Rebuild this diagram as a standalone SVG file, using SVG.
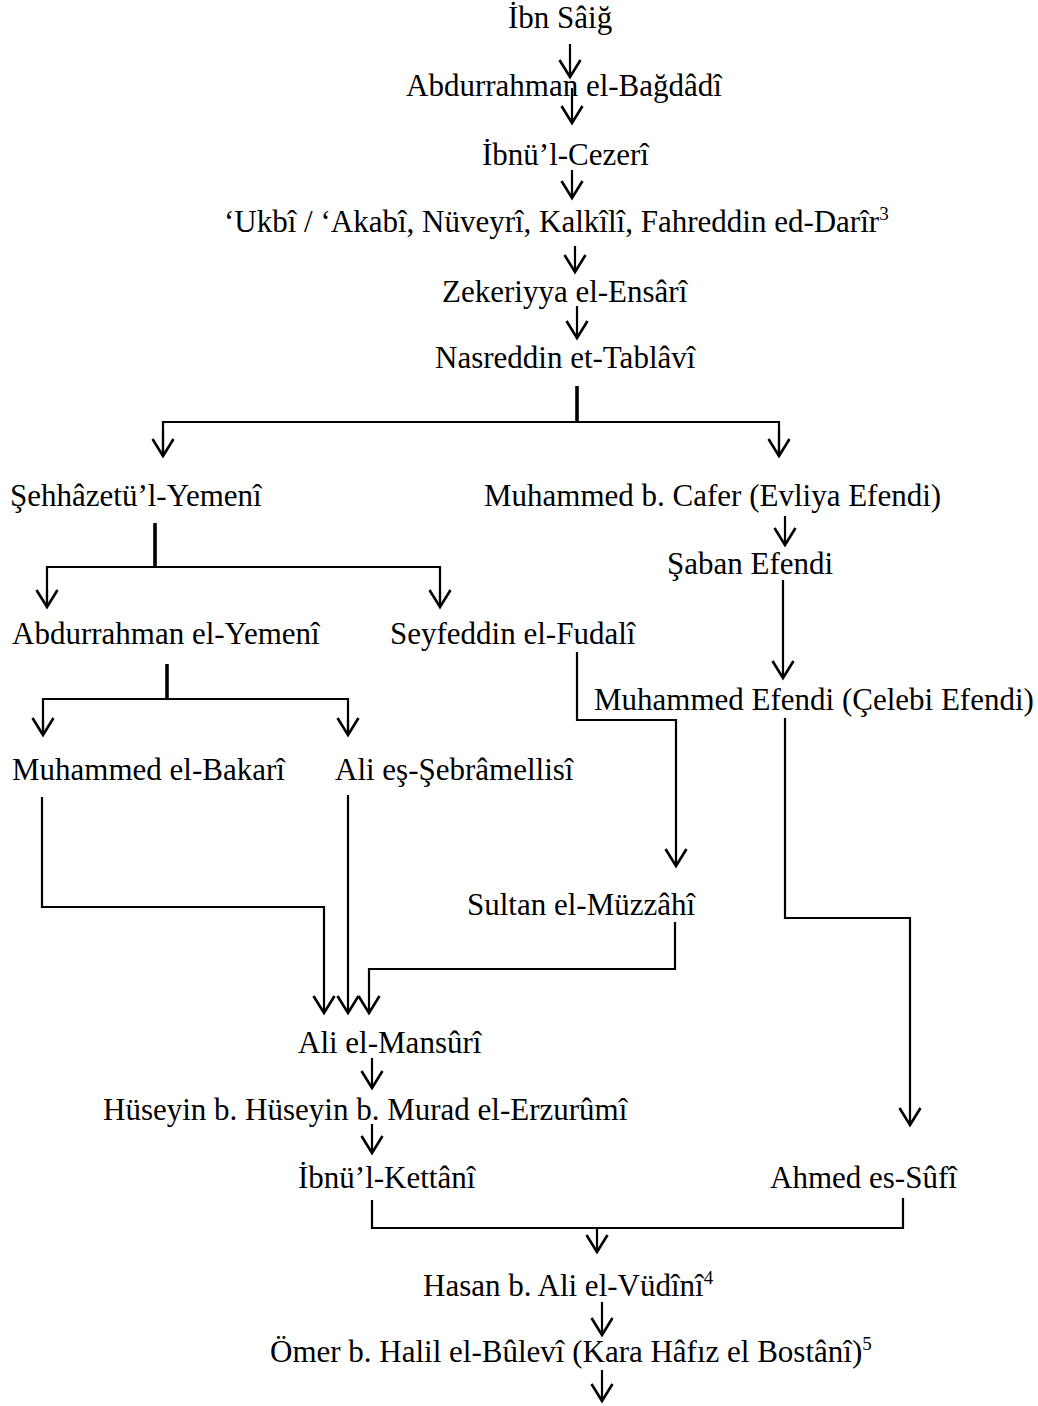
<svg xmlns="http://www.w3.org/2000/svg" width="1038" height="1406" viewBox="0 0 1038 1406">
<defs>
<style>
.t{font-family:"Liberation Serif","Times New Roman",serif;font-size:31px;fill:#000}
.sup{font-size:19px}
.c{fill:none;stroke:#000;stroke-width:2.2}
.s{fill:none;stroke:#000;stroke-width:3.6}
</style>
<marker id="ah" markerUnits="userSpaceOnUse" markerWidth="24" markerHeight="26" viewBox="-20 -13 24 26" refX="0" refY="0" orient="auto">
<path d="M-17,-10.5 L0,0 L-17,10.5" fill="none" stroke="#000" stroke-width="2.6"/>
</marker>
</defs>
<rect width="1038" height="1406" fill="#fff"/>
<g id="connectors">
<path class="c" d="M570,44 V77" marker-end="url(#ah)"/>
<path class="c" d="M572,88 V123" marker-end="url(#ah)"/>
<path class="c" d="M572,170 V198" marker-end="url(#ah)"/>
<path class="c" d="M575,246 V272" marker-end="url(#ah)"/>
<path class="c" d="M577,306 V338" marker-end="url(#ah)"/>
<path class="s" d="M577,386 V422"/>
<path class="c" d="M163,456 V422 H779 V456" />
<path class="c" d="M163,430 V456" marker-end="url(#ah)"/>
<path class="c" d="M779,430 V456" marker-end="url(#ah)"/>
<path class="s" d="M155,523 V567"/>
<path class="c" d="M47,607 V567 H440 V607"/>
<path class="c" d="M47,590 V607" marker-end="url(#ah)"/>
<path class="c" d="M440,590 V607" marker-end="url(#ah)"/>
<path class="c" d="M785,516 V545" marker-end="url(#ah)"/>
<path class="c" d="M783,580 V678" marker-end="url(#ah)"/>
<path class="s" d="M167,664 V699"/>
<path class="c" d="M43,735 V699 H348 V735"/>
<path class="c" d="M43,720 V735" marker-end="url(#ah)"/>
<path class="c" d="M348,720 V735" marker-end="url(#ah)"/>
<path class="c" d="M577,652 V720 H676 V866" marker-end="url(#ah)"/>
<path class="c" d="M785,718 V918 H910 V1125" marker-end="url(#ah)"/>
<path class="c" d="M42,797 V907 H324 V1013" marker-end="url(#ah)"/>
<path class="c" d="M348,795 V1013" marker-end="url(#ah)"/>
<path class="c" d="M675,922 V969 H369 V1013" marker-end="url(#ah)"/>
<path class="c" d="M372,1058 V1088" marker-end="url(#ah)"/>
<path class="c" d="M372,1124 V1153" marker-end="url(#ah)"/>
<path class="c" d="M372,1200 V1228 H903 V1198"/>
<path class="c" d="M597,1228 V1252" marker-end="url(#ah)"/>
<path class="c" d="M602,1302 V1335" marker-end="url(#ah)"/>
<path class="c" d="M602,1370 V1401" marker-end="url(#ah)"/>
</g>
<g id="n1"><text class="t" x="508" y="28">İbn Sâiğ</text></g>
<g id="n2"><text class="t" x="406" y="96">Abdurrahman el-Bağdâdî</text></g>
<g id="n3"><text class="t" x="482" y="165">İbnü’l-Cezerî</text></g>
<g id="n4"><text class="t" x="224" y="232">‘Ukbî / ‘Akabî, Nüveyrî, Kalkîlî, Fahreddin ed-Darîr<tspan class="sup" dy="-12">3</tspan></text></g>
<g id="n5"><text class="t" x="442" y="302">Zekeriyya el-Ensârî</text></g>
<g id="n6"><text class="t" x="435" y="368">Nasreddin et-Tablâvî</text></g>
<g id="n7"><text class="t" x="10" y="506">Şehhâzetü’l-Yemenî</text></g>
<g id="n8"><text class="t" x="484" y="506">Muhammed b. Cafer (Evliya Efendi)</text></g>
<g id="n9"><text class="t" x="667" y="574">Şaban Efendi</text></g>
<g id="n10"><text class="t" x="12" y="644">Abdurrahman el-Yemenî</text></g>
<g id="n11"><text class="t" x="390" y="644">Seyfeddin el-Fudalî</text></g>
<g id="n12"><text class="t" x="594" y="710">Muhammed Efendi (Çelebi Efendi)</text></g>
<g id="n13"><text class="t" x="12" y="780">Muhammed el-Bakarî</text></g>
<g id="n14"><text class="t" x="335" y="780">Ali eş-Şebrâmellisî</text></g>
<g id="n15"><text class="t" x="467" y="915">Sultan el-Müzzâhî</text></g>
<g id="n16"><text class="t" x="298" y="1053">Ali el-Mansûrî</text></g>
<g id="n17"><text class="t" x="103" y="1120">Hüseyin b. Hüseyin b. Murad el-Erzurûmî</text></g>
<g id="n18"><text class="t" x="298" y="1188">İbnü’l-Kettânî</text></g>
<g id="n19"><text class="t" x="770" y="1188">Ahmed es-Sûfî</text></g>
<g id="n20"><text class="t" x="423" y="1296">Hasan b. Ali el-Vüdînî<tspan class="sup" dy="-12">4</tspan></text></g>
<g id="n21"><text class="t" x="270" y="1362">Ömer b. Halil el-Bûlevî (Kara Hâfız el Bostânî)<tspan class="sup" dy="-12">5</tspan></text></g>
</svg>
